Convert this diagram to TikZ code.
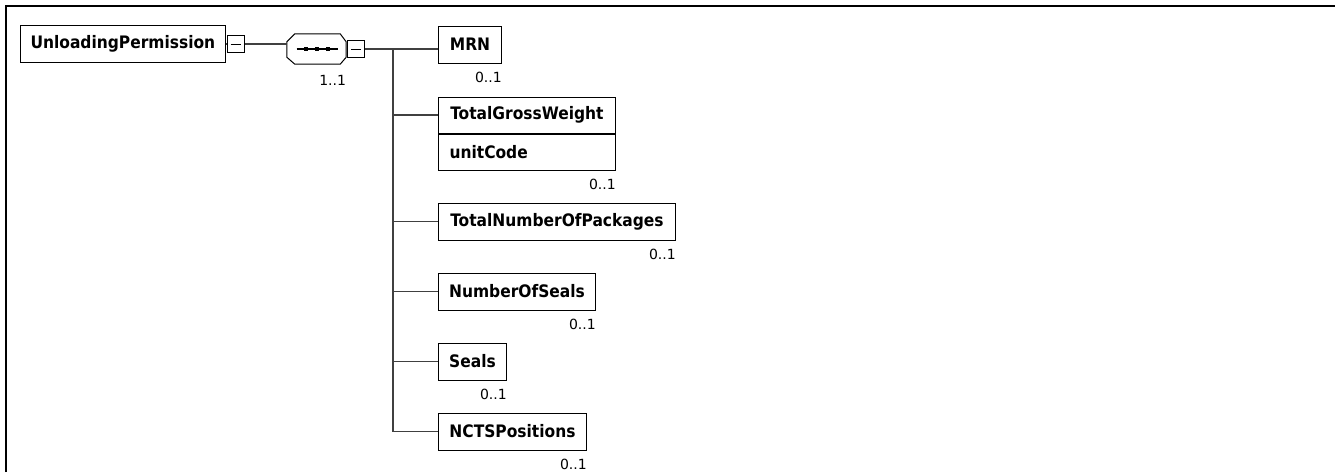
\documentclass[tikz,border=0pt]{standalone}
\usepackage{fontspec}
\setmainfont{DejaVu Sans}
\newfontfamily\elemfont{DejaVu Sans Condensed}
\usetikzlibrary{positioning}

\begin{document}
\begin{tikzpicture}[x=1pt, y=-1pt,
      elem/.style={rectangle, draw, line width=1pt, anchor=west,
                   minimum height=37pt, inner xsep=10pt, inner ysep=0pt,
                   font=\elemfont\bfseries\fontsize{17.2}{19}\selectfont},
      attr/.style={elem, anchor=north west, align=left},
      minus/.style={rectangle, draw, line width=1pt, minimum width=17pt,
                    minimum height=17pt, inner sep=0pt},
      card/.style={anchor=base east, inner sep=0pt,
                   font=\fontsize{14}{16}\selectfont},
      conn/.style={draw=black!75, line width=1.1pt}
    ]
    \useasboundingbox (0,0) rectangle (1335,472);
    % frame
    \draw[line width=2.2pt] (6,472) -- (6,6) -- (1335,6);

    % root element and sequence
    \node[elem, minimum width=203pt] (root) at (20,44) {UnloadingPermission};
    \node[minus, right=1pt of root] (m1) {};
    \node[minimum width=59pt, minimum height=30pt, inner sep=0pt] (seq) at (316.5,49) {};
    \node[minus, right=1pt of seq] (m2) {};
    \node[card] (seqcard) at ([yshift=-21pt]seq.south east) {1..1};

    \draw[line width=1pt] ([xshift=8pt]seq.north west) -- ([xshift=-6pt]seq.north east)
      -- ([yshift=-8pt]seq.north east) -- ([yshift=7pt]seq.south east)
      -- ([xshift=-6pt]seq.south east) -- ([xshift=8pt]seq.south west)
      -- ([yshift=7pt]seq.south west) -- ([yshift=-8pt]seq.north west) -- cycle;
    \draw[line width=1.2pt] ([xshift=-20pt]seq.center) -- ([xshift=21pt]seq.center);
    \foreach \dx in {-10.5,0.5,11.5}
      \fill ([xshift=\dx pt]seq.center) +(-2.2,-2.2) rectangle +(2.2,2.2);
    \foreach \m in {m1,m2}
      \draw[line width=1pt] ([xshift=4pt]\m.west) -- ([xshift=-4pt]\m.east);

    % children
    \node[elem, minimum width=63pt]  (mrn)   at (438,44.5)  {MRN};
    \node[elem, minimum width=177pt, minimum height=36pt] (tgw) at (438,115) {TotalGrossWeight};
    \node[attr, minimum width=177pt, minimum height=36pt, text width=155pt] (unit) at (tgw.south west) {unitCode};
    \node[elem, minimum width=237pt] (tnop)  at (438,221.5) {TotalNumberOfPackages};
    \node[elem, minimum width=157pt] (nos)   at (438,291.5) {NumberOfSeals};
    \node[elem, minimum width=68pt]  (seals) at (438,361.5) {Seals};
    \node[elem, minimum width=148pt] (ncts)  at (438,431.5) {NCTSPositions};

    \foreach \n in {mrn,unit,tnop,nos,seals,ncts}
      \node[card] at ([yshift=-19pt]\n.south east) {0..1};

    % connectors
    \coordinate (trunk) at (393,48);
    \draw[conn] (root.east) -- (m1.west);
    \draw[conn] (m1.east) -- (m1.east -| seq.west);
    \draw[conn] (m2.east) -- (m2.east -| mrn.west);
    \draw[conn] (trunk) -- (trunk |- ncts.west);
    \foreach \n in {tgw,tnop,nos,seals,ncts}
      \draw[conn] (\n.west -| trunk) -- (\n.west);
  \end{tikzpicture}
\end{document}
